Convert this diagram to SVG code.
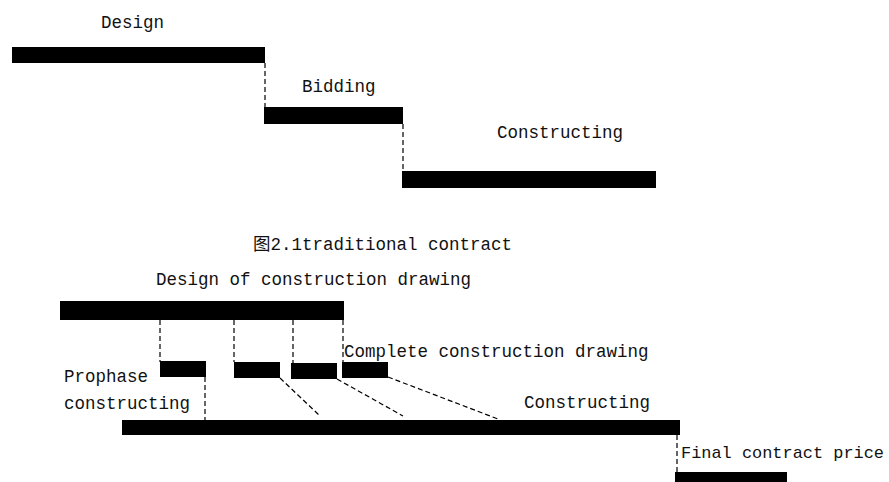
<svg xmlns="http://www.w3.org/2000/svg" width="889" height="482" viewBox="0 0 889 482">
<style>
.bar{fill:#000}
.dash{stroke:#000;stroke-width:1.2;stroke-dasharray:5 3;fill:none}
text{font-family:"Liberation Mono","Noto Sans CJK SC",monospace;font-size:17.5px;fill:#111}
</style>
<rect width="889" height="482" fill="#fff"/>
<g id="connectors">
<line class="dash" x1="265" y1="63" x2="265" y2="107"/>
<line class="dash" x1="403" y1="124" x2="403" y2="171"/>
<line class="dash" x1="160" y1="320" x2="160" y2="362"/>
<line class="dash" x1="234" y1="320" x2="234" y2="362"/>
<line class="dash" x1="293" y1="320" x2="293" y2="363"/>
<line class="dash" x1="343" y1="320" x2="343" y2="362"/>
<line class="dash" x1="205" y1="377" x2="205" y2="420"/>
<line class="dash" x1="280" y1="378" x2="320" y2="416"/>
<line class="dash" x1="337" y1="379" x2="403" y2="416"/>
<line class="dash" x1="388" y1="377" x2="498" y2="419"/>
<line class="dash" x1="677" y1="435" x2="677" y2="472"/>
</g>
<g id="design">
<rect class="bar" x="12" y="47" width="253" height="16"/>
<text x="101" y="28">Design</text>
</g>
<g id="bidding">
<rect class="bar" x="264" y="107" width="139" height="17"/>
<text x="302" y="92">Bidding</text>
</g>
<g id="constructing-top">
<rect class="bar" x="402" y="171" width="254" height="17"/>
<text x="497" y="138">Constructing</text>
</g>
<g id="caption">
<text x="253" y="250">图2.1traditional contract</text>
</g>
<g id="design-drawing">
<rect class="bar" x="60" y="301" width="284" height="19"/>
<text x="156" y="285">Design of construction drawing</text>
</g>
<g id="prophase">
<rect class="bar" x="160" y="361" width="46" height="16"/>
<text x="64" y="382">Prophase</text>
<text x="64" y="409">constructing</text>
</g>
<g id="seg2">
<rect class="bar" x="234" y="362" width="46" height="16"/>
</g>
<g id="seg3">
<rect class="bar" x="291" y="363" width="46" height="16"/>
</g>
<g id="complete">
<rect class="bar" x="342" y="362" width="46" height="16"/>
<text x="344" y="357">Complete construction drawing</text>
</g>
<g id="constructing-main">
<rect class="bar" x="122" y="420" width="558" height="15"/>
<text x="524" y="408">Constructing</text>
</g>
<g id="final">
<rect class="bar" x="675" y="472" width="112" height="12"/>
<text x="681" y="458" style="font-size:17px" textLength="203" lengthAdjust="spacingAndGlyphs">Final contract price</text>
</g>
</svg>
